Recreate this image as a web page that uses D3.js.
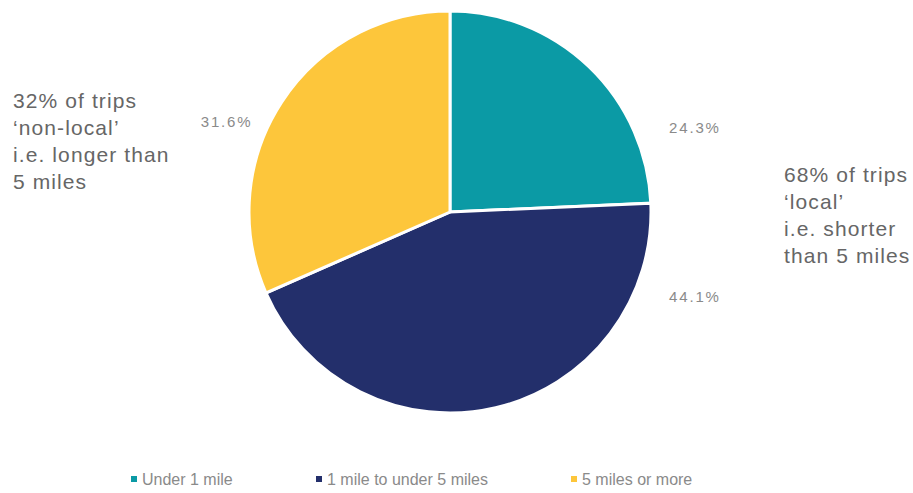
<!DOCTYPE html>
<html>
<head>
<meta charset="utf-8">
<script src="https://cdn.jsdelivr.net/npm/d3@7"></script>
<style>
  body { margin: 0; background: #fff; }
  text { font-family: "Liberation Sans", Arial, sans-serif; }
</style>
</head>
<body>
<div id="viz"></div>
<script>
const categories = ["Under 1 mile", "1 mile to under 5 miles", "5 miles or more"];
const shares = [24.3, 44.1, 31.6];
const pctLabels = ["24.3%", "44.1%", "31.6%"];
const colors = ["#0b9aa5", "#232f6b", "#fdc63b"];
const leftNote = ["32% of trips", "\u2018non-local\u2019", "i.e. longer than", "5 miles"];
const rightNote = ["68% of trips", "\u2018local\u2019", "i.e. shorter", "than 5 miles"];

// manual label placement (angle from 12 o'clock in degrees, distance from centre)
const labelAngle = [71, 109, 292];
const labelDist = [259, 259, 241];

const width = 913, height = 493;
const cx = 450, cy = 212, radius = 201;

const svg = d3.select("#viz").append("svg")
  .attr("width", width)
  .attr("height", height);

const data = categories.map((c, i) => ({ cat: c, value: shares[i], label: pctLabels[i], color: colors[i] }));

const pie = d3.pie().value(d => d.value).sort(null);
const arc = d3.arc().innerRadius(0).outerRadius(radius);

const g = svg.append("g").attr("transform", `translate(${cx},${cy})`);

const arcs = pie(data);

g.selectAll("path")
  .data(arcs)
  .enter()
  .append("path")
  .attr("d", arc)
  .attr("fill", d => d.data.color)
  .attr("stroke", "#fff")
  .attr("stroke-width", 3);

g.selectAll("text.pct")
  .data(arcs)
  .enter()
  .append("text")
  .attr("class", "pct")
  .attr("transform", (d, i) => {
    const a = labelAngle[i] * Math.PI / 180;
    return `translate(${Math.sin(a) * labelDist[i]},${-Math.cos(a) * labelDist[i]})`;
  })
  .attr("text-anchor", "middle")
  .attr("dy", "0.35em")
  .attr("font-size", 15)
  .attr("letter-spacing", 1.8)
  .attr("fill", "#8a8a8a")
  .text(d => d.data.label);

function note(lines, x, y) {
  const t = svg.append("text")
    .attr("x", x).attr("y", y)
    .attr("font-size", 21)
    .attr("letter-spacing", 1.1)
    .attr("fill", "#666");
  t.selectAll("tspan")
    .data(lines)
    .enter()
    .append("tspan")
    .attr("x", x)
    .attr("dy", (d, i) => i === 0 ? 0 : 27)
    .text(d => d);
}
note(leftNote, 13, 108);
note(rightNote, 784, 182);

// legend
const legendX = [131, 316, 571];
const items = svg.append("g").selectAll("g")
  .data(data)
  .enter()
  .append("g")
  .attr("transform", (d, i) => `translate(${legendX[i]},479)`);
items.append("rect")
  .attr("x", 0).attr("y", -3)
  .attr("width", 6).attr("height", 6)
  .attr("fill", d => d.color);
items.append("text")
  .attr("x", 11)
  .attr("dy", "0.35em")
  .attr("font-size", 16)
  .attr("fill", "#8a8a8a")
  .text(d => d.cat);
</script>
</body>
</html>
